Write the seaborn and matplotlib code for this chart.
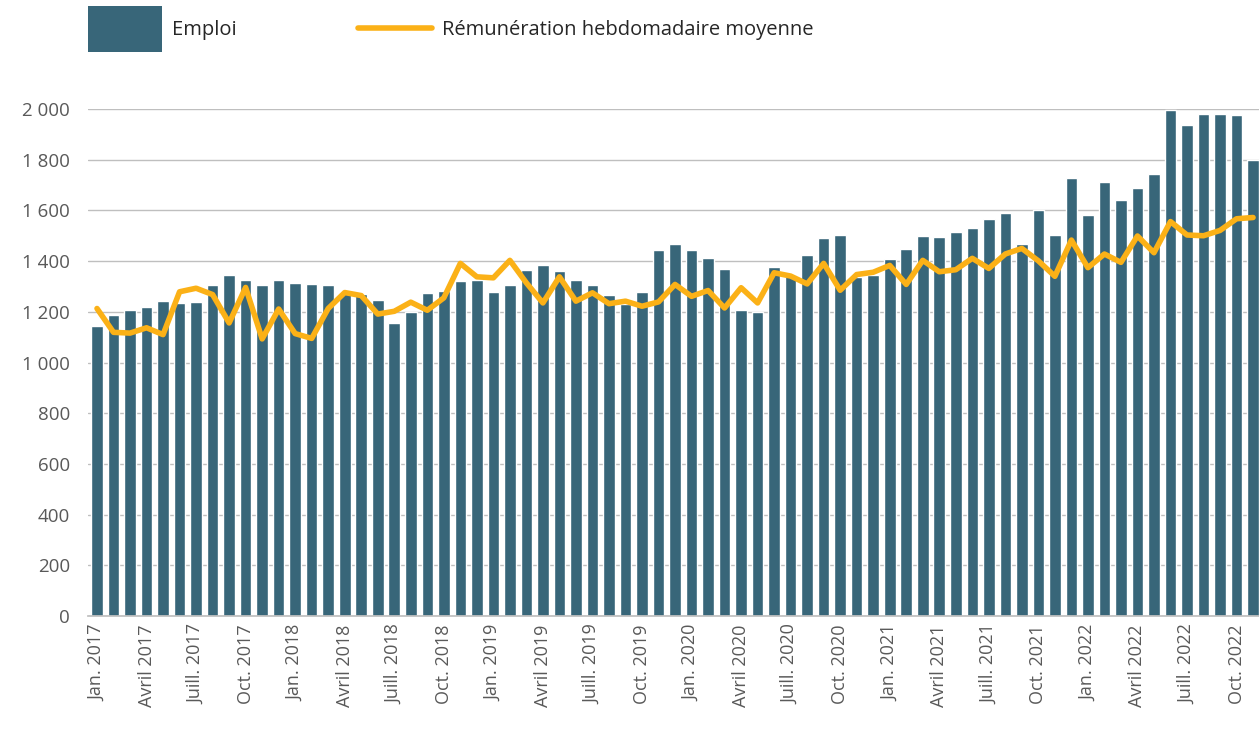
import numpy as np
import pandas as pd
import seaborn as sns
import matplotlib.pyplot as plt
from matplotlib.patches import Patch
from matplotlib.lines import Line2D

sns.set_theme(style="white")
plt.rcParams['font.family'] = ['Open Sans', 'DejaVu Sans']

bar_color = "#386679"
line_color = "#FBB117"
grey = "#595959"

mois = ["Jan.", "Févr.", "Mars", "Avril", "Mai", "Juin",
        "Juill.", "Août", "Sept.", "Oct.", "Nov.", "Déc."]
annees = [2017, 2018, 2019, 2020, 2021, 2022]
labels = [f"{m} {a}" for a in annees for m in mois][:71]

emploi = [1143, 1189, 1209, 1217, 1244, 1234, 1238, 1305, 1345, 1325, 1305, 1325,
          1313, 1309, 1305, 1273, 1269, 1245, 1157, 1198, 1276, 1284, 1320, 1324,
          1280, 1304, 1363, 1383, 1359, 1324, 1304, 1268, 1231, 1280, 1443, 1467,
          1443, 1411, 1367, 1209, 1198, 1378, 1345, 1423, 1491, 1503, 1337, 1345,
          1407, 1447, 1499, 1495, 1515, 1531, 1567, 1591, 1468, 1603, 1503, 1726,
          1583, 1714, 1642, 1690, 1742, 1996, 1936, 1980, 1980, 1976, 1797]

remuneration = [1213, 1119, 1116, 1137, 1110, 1279, 1293, 1268, 1156, 1296, 1093, 1211,
                1114, 1095, 1213, 1276, 1264, 1191, 1202, 1238, 1206, 1255, 1391, 1338,
                1334, 1403, 1314, 1235, 1338, 1242, 1275, 1232, 1242, 1222, 1239, 1308,
                1261, 1284, 1215, 1295, 1235, 1354, 1341, 1310, 1391, 1285, 1347, 1356,
                1383, 1308, 1403, 1358, 1366, 1411, 1371, 1428, 1450, 1401, 1340, 1483,
                1374, 1428, 1395, 1499, 1433, 1556, 1503, 1500, 1521, 1567, 1572]

df = pd.DataFrame({"mois": labels, "emploi": emploi, "remu": remuneration})

fig = plt.figure(figsize=(12.59, 7.32), dpi=100)
ax = fig.add_axes([88 / 1259, 116 / 732, 1171 / 1259, 507 / 732])

sns.barplot(data=df, x="mois", y="emploi", color=bar_color, saturation=1,
            width=0.7, ax=ax, zorder=2)
sns.lineplot(x=np.arange(len(df)), y=df["remu"], color=line_color, linewidth=4,
             ax=ax, zorder=3)
ax.lines[-1].set_solid_capstyle("round")

ax.set_xlim(-0.545, 70.36)
ax.set_ylim(0, 2000)
ax.set_xlabel("")
ax.set_ylabel("")

ticks = list(range(0, len(df), 3))
ax.set_xticks(ticks)
ax.set_xticklabels([labels[i] for i in ticks], rotation=90, color=grey, fontsize=13)
yt = list(range(0, 2001, 200))
ax.set_yticks(yt)
ax.set_yticklabels([f"{v:,}".replace(",", " ") for v in yt], color=grey, fontsize=13.5)
ax.tick_params(axis="y", length=0, pad=13)
ax.tick_params(axis="x", length=0, pad=6)

ax.yaxis.grid(True, color="#BFBFBF", linewidth=1, zorder=0)
ax.set_axisbelow(True)
for s in ["top", "right", "left"]:
    ax.spines[s].set_visible(False)
ax.spines["bottom"].set_color("#BFBFBF")

# legende en haut : deux morceaux pour bien centrer la ligne sur le texte
leg_kw = dict(frameon=False, fontsize=14.5, handlelength=3.68, handletextpad=0.5,
              borderpad=0, borderaxespad=0, labelcolor="#262626")
fig.legend([Patch(facecolor=bar_color, edgecolor="none")], ["Emploi"],
           loc="upper left", bbox_to_anchor=(88 / 1259, 1 - 6 / 732),
           handleheight=3.14, **leg_kw)
fig.legend([Line2D([], [], color=line_color, linewidth=4, solid_capstyle="round")],
           ["Rémunération hebdomadaire moyenne"],
           loc="center left", bbox_to_anchor=(358 / 1259, 1 - 30 / 732), **leg_kw)

fig.savefig("out.png", dpi=100)
